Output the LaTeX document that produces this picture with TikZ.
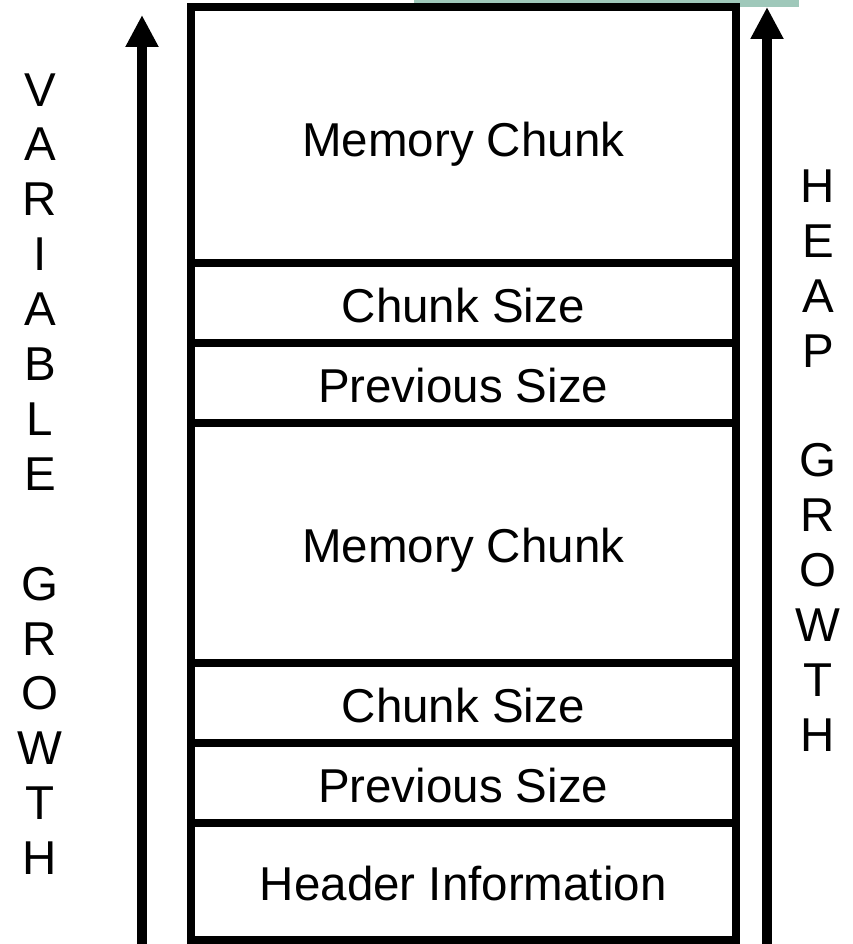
\documentclass[tikz,border=0pt]{standalone}
\usepackage{fontspec}
\setmainfont{Liberation Sans}
\usetikzlibrary{arrows.meta}
\definecolor{bargreen}{HTML}{9FC8BA}
\newcommand{\celltext}[2]{\raisebox{-#1pt}[0pt][0pt]{#2}}
\tikzset{
  cell/.style={draw=black, line width=8pt, rectangle, inner sep=0pt,
    minimum width=545.5pt, font=\fontsize{47.5}{54.9}\selectfont},
  vlabel/.style={align=center, inner sep=0pt, font=\fontsize{47.5}{54.9}\selectfont},
  growarrow/.style={line width=10pt, -{Triangle[width=31pt,length=32pt]}}
}
\begin{document}
\begin{tikzpicture}[x=1pt,y=-1pt]
\useasboundingbox (0,0) rectangle (852,944);
\fill[bargreen] (414,0) rectangle (799,7);
\node[cell, minimum height=256pt] (mc1) at (463.25,135) {\celltext{22}{Memory Chunk}};
\node[cell, minimum height=80pt] (cs1) at (463.25,303) {\celltext{19}{Chunk Size}};
\node[cell, minimum height=80pt] (ps1) at (463.25,383) {\celltext{19}{Previous Size}};
\node[cell, minimum height=240pt] (mc2) at (463.25,543) {\celltext{19}{Memory Chunk}};
\node[cell, minimum height=80pt] (cs2) at (463.25,703) {\celltext{19}{Chunk Size}};
\node[cell, minimum height=80pt] (ps2) at (463.25,783) {\celltext{19}{Previous Size}};
\node[cell, minimum height=117pt] (hdr) at (463.25,881.5) {\celltext{18.5}{Header Information}};
\coordinate (lbot) at (142,944);
\coordinate (ltop) at (142,15);
\coordinate (rbot) at (767,944);
\coordinate (rtop) at (767,7);
\draw[growarrow] (lbot) -- (ltop);
\draw[growarrow] (rbot) -- (rtop);
\node[vlabel] (vg) at (40,474) {V\\A\\R\\I\\A\\B\\L\\E\\\mbox{}\\G\\R\\O\\W\\T\\H};
\node[vlabel] (hg) at (818,460.5) {H\\E\\A\\P\\\mbox{}\\G\\R\\O\\W\\T\\H};
\end{tikzpicture}
\end{document}
